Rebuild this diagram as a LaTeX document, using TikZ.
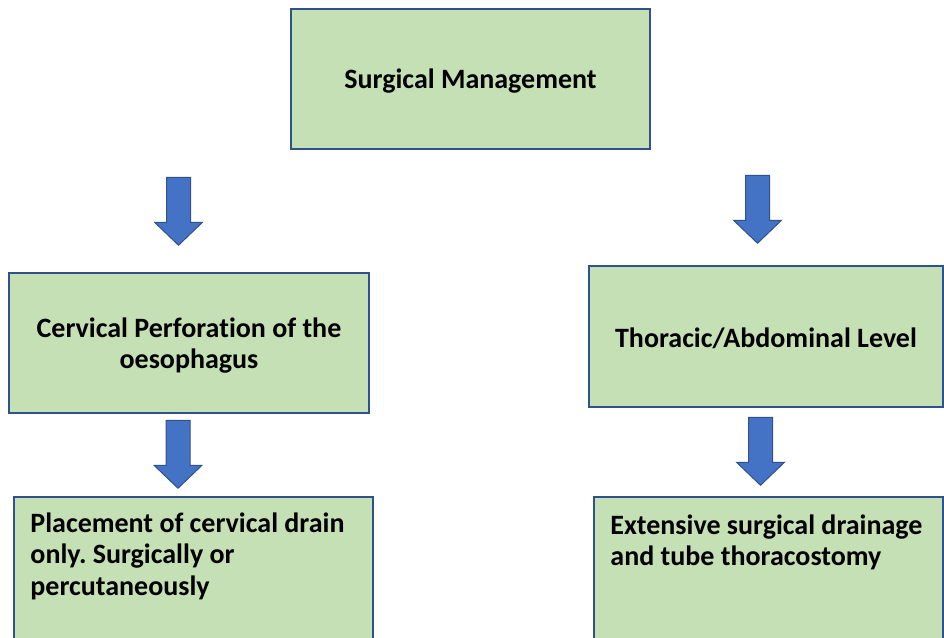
\documentclass[tikz,border=0pt]{standalone}
\usepackage{fontspec}
\setmainfont{Carlito}[Ligatures={NoCommon}]
\frenchspacing
\usepackage{tikz}
\usetikzlibrary{positioning, calc}
\definecolor{boxgreen}{HTML}{C5E0B4}
\definecolor{boxline}{HTML}{2F528F}
\definecolor{arrowblue}{HTML}{4472C4}
\newcommand{\flowarrow}[1]{\draw[downarrow] (#1) -- ++(-24,-23) -- ++(12,0) -- ++(0,-45) -- ++(24,0) -- ++(0,45) -- ++(12,0) -- cycle;}

\begin{document}
\begin{tikzpicture}[
                x=1pt, y=-1pt,
                stage/.style={rectangle, draw=boxline, line width=1.5pt, fill=boxgreen, inner sep=0pt},
                note/.style={inner sep=0pt, anchor=north west, align=left, font={\fontsize{28}{31.5}\selectfont\bfseries}},
                downarrow/.style={draw=boxline, line width=1pt, fill=arrowblue, line join=miter}
            ]%
            \clip (0,0) rectangle (944,637);
            %
            % Cajas principales
            \node[stage, minimum width=359pt, minimum height=140pt] (surgery) at (470.5,79) {};
            \node[note, anchor=center, align=center] (surgeryText) at ([yshift=-2pt]surgery.center) {Surgical Management};
            \node[stage, minimum width=360pt, minimum height=140pt] (cervical) at (189,343) {};
            \node[note, anchor=center, align=center] (cervicalText) at ([yshift=-2.5pt]cervical.center) {Cervical Perforation of the\\oesophagus};
            \node[stage, minimum width=354pt, minimum height=141pt] (thoracic) at (766,336.5) {};
            \node[note, anchor=center, align=center] (thoracicText) at ([yshift=-2pt]thoracic.center) {Thoracic/Abdominal Level};
            %
            % Cajas inferiores (cortadas abajo)
            \node[stage, minimum width=359pt, minimum height=160pt] (drain) at (193.5,577) {};
            \node[stage, minimum width=349pt, minimum height=160pt] (tube) at (768.5,577) {};
            \node[note] (drainText) at ([xshift=17pt, yshift=-16pt]drain.north west) {Placement of cervical drain\\only. Surgically or\\percutaneously};
            \node[note] (tubeText) at ([xshift=17pt, yshift=-18pt]tube.north west) {Extensive surgical drainage\\and tube thoracostomy};
            %
            % Flechas de bloque
            \coordinate (tipCervical) at ([xshift=-10.5pt, yshift=27pt]cervical.north);
            \coordinate (tipThoracic) at ([xshift=-8.5pt, yshift=22pt]thoracic.north);
            \coordinate (tipDrain) at ([xshift=-15.5pt, yshift=8pt]drain.north);
            \coordinate (tipTube) at ([xshift=-8pt, yshift=11pt]tube.north);
            \flowarrow{tipCervical}
            \flowarrow{tipThoracic}
            \flowarrow{tipDrain}
            \flowarrow{tipTube}
        \end{tikzpicture}
\end{document}
